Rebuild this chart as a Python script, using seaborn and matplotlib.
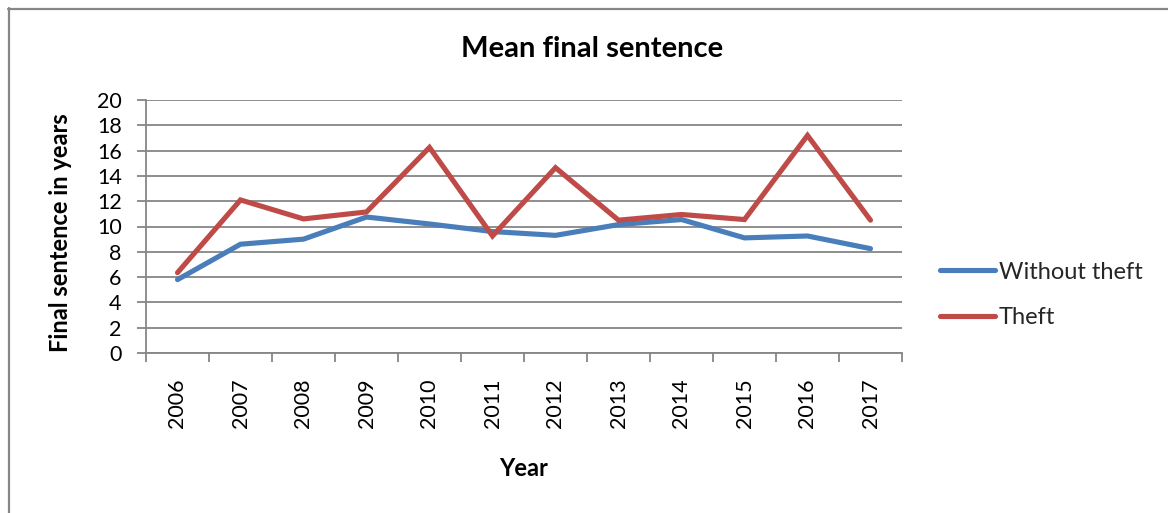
import numpy as np
import pandas as pd
import matplotlib
matplotlib.use("Agg")
import matplotlib.pyplot as plt
from matplotlib.lines import Line2D
import seaborn as sns

# Mean final sentence per year (years)
years = ["2006", "2007", "2008", "2009", "2010", "2011",
         "2012", "2013", "2014", "2015", "2016", "2017"]
without_theft = [5.8, 8.6, 9.0, 10.75, 10.2, 9.6, 9.3, 10.15, 10.55, 9.1, 9.25, 8.25]
theft = [6.35, 12.1, 10.6, 11.15, 16.25, 9.25, 14.65, 10.5, 10.95, 10.55, 17.2, 10.5]

series_names = ["Without theft", "Theft"]
series_colors = ["#4A7EBB", "#BE4B48"]

df = pd.DataFrame({
    "pos": list(range(len(years))) * 2,
    "Year": years * 2,
    "value": without_theft + theft,
    "series": [series_names[0]] * len(years) + [series_names[1]] * len(years),
})

sns.set_theme(style="white")
plt.rcParams["font.family"] = ["Lato", "DejaVu Sans"]

W, H = 1168, 513
fig = plt.figure(figsize=(W / 100, H / 100), dpi=100)
ax = fig.add_axes([146 / W, 1 - 353 / H, 756 / W, 253 / H])

grid_col = "#868686"
lw = 3.7
sns.lineplot(data=df, x="pos", y="value", hue="series",
             palette=dict(zip(series_names, series_colors)),
             linewidth=lw, ax=ax, legend=False, sort=False,
             solid_capstyle="round", solid_joinstyle="miter")

ax.set_xlim(-0.5, len(years) - 0.5)
ax.set_ylim(0, 20)
ax.set_yticks(np.arange(0, 21, 2))
ax.yaxis.grid(True, color=grid_col, linewidth=1.3)
ax.set_axisbelow(True)
for ln in ax.lines:
    ln.set_zorder(3)

# category labels at centres, tick marks on the category boundaries
ax.set_xticks(range(len(years)))
ax.set_xticklabels(years, rotation=90, fontsize=15.5, color="black")
ax.set_xticks(np.arange(-0.5, len(years), 1), minor=True)
ax.tick_params(axis="x", which="major", length=0, pad=18)
ax.tick_params(axis="x", which="minor", length=6.5, width=1.3, color=grid_col,
               direction="out", bottom=True)
ax.tick_params(axis="y", which="major", length=6.5, width=1.3, color=grid_col,
               direction="out", left=True, labelsize=15.5, labelcolor="black", pad=11)

for side in ["top", "right"]:
    ax.spines[side].set_visible(False)
for side in ["left", "bottom"]:
    ax.spines[side].set_color(grid_col)
    ax.spines[side].set_linewidth(1.3)

ax.set_xlabel("Year", fontsize=17, fontweight="bold", color="black", va="center")
ax.xaxis.set_label_coords(0.5, -(468 - 353) / 253)
ax.set_ylabel("Final sentence in years", fontsize=17, fontweight="bold",
              color="black", va="center")
ax.yaxis.set_label_coords((60 - 146) / 756, 1 - (233 - 100) / 253)

fig.text(592 / W, 1 - 49 / H, "Mean final sentence", ha="center", va="center",
         fontsize=21, fontweight="bold", color="black")

handles = [Line2D([], [], color=c, linewidth=lw, solid_capstyle="round")
           for c in series_colors]
fig.legend(handles, series_names, loc="center left",
           bbox_to_anchor=(940 / W, 1 - 295 / H), frameon=False,
           fontsize=17, handlelength=2.35, handletextpad=0.15, labelspacing=1.05,
           borderaxespad=0, borderpad=0)

# chart-area border (top and left edges visible)
fig.add_artist(Line2D([8 / W, 1.0], [1 - 8.5 / H] * 2, transform=fig.transFigure,
                      color=grid_col, linewidth=1.6))
fig.add_artist(Line2D([8.5 / W] * 2, [0.0, 1 - 8 / H], transform=fig.transFigure,
                      color=grid_col, linewidth=1.6))

fig.savefig("out.png", dpi=100, facecolor="white")
